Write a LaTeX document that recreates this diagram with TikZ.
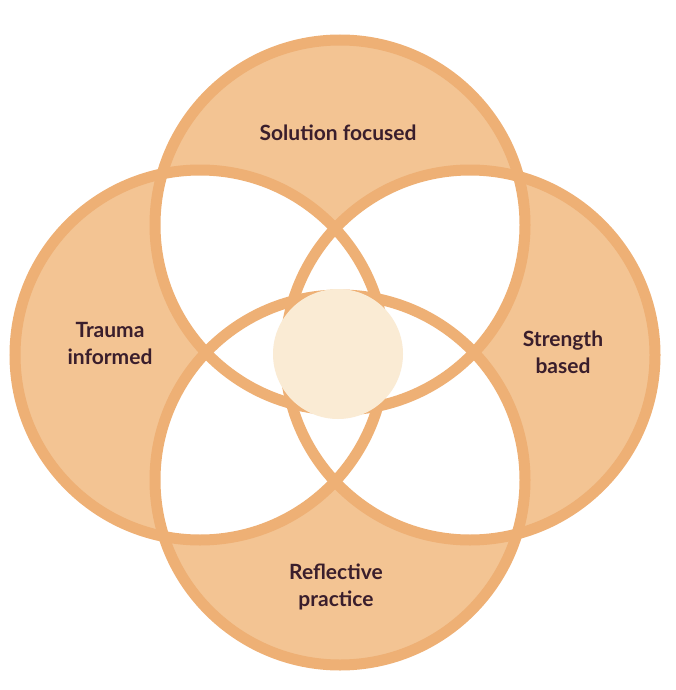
\documentclass[tikz,border=0pt]{standalone}
\usepackage{fontspec}
\setmainfont{Lato}
\definecolor{petal}{HTML}{F3C493}
\definecolor{rim}{HTML}{EEB075}
\definecolor{core}{HTML}{FAEBD4}
\definecolor{ink}{HTML}{3A1E2C}
\begin{document}
\begin{tikzpicture}[x=1pt,y=1pt,
    rimline/.style = {draw=rim,line width=11pt},
    label/.style = {text=ink,font=\fontsize{21}{27}\selectfont\bfseries,align=center}]
    \useasboundingbox (0,0) rectangle (676,-690);
    % circle centres
    \coordinate (top) at (340,-225);
    \coordinate (lft) at (200,-355);
    \coordinate (rgt) at (470,-355);
    \coordinate (bot) at (340,-480);
    \def\rad{185}
    \foreach \c in {top,lft,rgt,bot}
        \fill[petal] (\c) circle (\rad);
    % white overlaps
    \foreach \a/\b in {top/lft,top/rgt,top/bot,lft/rgt,lft/bot,rgt/bot}{
        \begin{scope}
            \clip (\a) circle (\rad);
            \fill[white] (\b) circle (\rad);
        \end{scope}
    }
    \foreach \c in {top,lft,rgt,bot}
        \draw[rimline] (\c) circle (\rad);
    \fill[core] (338,-354) circle (65);

    \node[label] (solution) at (338,-133) {Solution focused};
    \node[label] (trauma)   at (110,-343) {Trauma\\informed};
    \node[label] (strength) at (563,-352) {Strength\\based};
    \node[label] (reflect)  at (336,-587) {Reflective\\practice};
\end{tikzpicture}
\end{document}
